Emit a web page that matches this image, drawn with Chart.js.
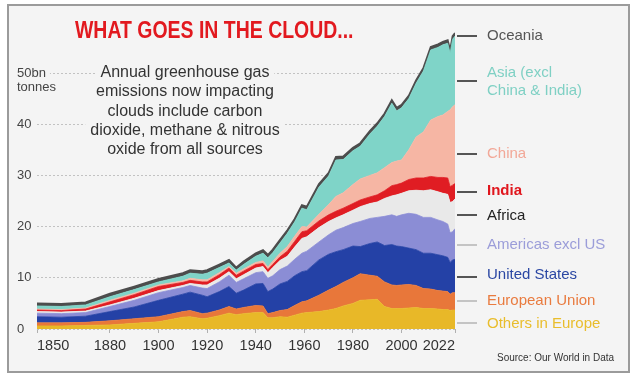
<!DOCTYPE html>
<html><head><meta charset="utf-8">
<script src="https://cdn.jsdelivr.net/npm/chart.js@4"></script>
<style>
html,body{margin:0;padding:0;background:#fff;}
#wrap{position:relative;width:635px;height:383px;overflow:hidden;font-family:"Liberation Sans",Arial,sans-serif;}
#frame{position:absolute;left:7px;top:4px;width:623px;height:369px;box-sizing:border-box;border:2px solid #9b9b9b;background:#f4f4f4;}
#c{position:absolute;left:0;top:0;}
.t{position:absolute;white-space:nowrap;}
.note span{background:#f4f4f4;padding:0 5px;}
.lab{position:absolute;left:487px;font-size:15px;line-height:18px;white-space:nowrap;}
.ld{position:absolute;left:457px;width:20px;height:2px;}
</style></head><body>
<div id="wrap">
<div id="frame"></div>
<canvas id="c" width="635" height="383"></canvas>
<div class="t" style="left:75px;top:19px;font-size:23px;line-height:23px;font-weight:bold;color:#e2191f;transform:scaleX(0.846);transform-origin:0 0;">WHAT GOES IN THE CLOUD...</div>
<div class="t" style="left:17px;top:79px;font-size:13px;line-height:16px;color:#444;">tonnes</div>
<div class="t note" style="left:185px;top:62px;transform:translateX(-50%);font-size:16px;line-height:19.3px;color:#333;text-align:center;"><span>Annual greenhouse gas</span><br><span>emissions now impacting</span><br><span>clouds include carbon</span><br><span>dioxide, methane &amp; nitrous</span><br><span>oxide from all sources</span></div>

<div class="ld" style="top:35px;background:#555;"></div>
<div class="ld" style="top:80px;background:#555;"></div>
<div class="ld" style="top:153px;background:#555;"></div>
<div class="ld" style="top:191px;background:#555;"></div>
<div class="ld" style="top:214px;background:#555;"></div>
<div class="ld" style="top:244px;background:#c4c4c4;"></div>
<div class="ld" style="top:276px;background:#555;"></div>
<div class="ld" style="top:300px;background:#c4c4c4;"></div>
<div class="ld" style="top:322px;background:#c4c4c4;"></div>

<div class="lab" style="top:26px;color:#555;">Oceania</div>
<div class="lab" style="top:63px;color:#7fd0c4;">Asia (excl<br>China &amp; India)</div>
<div class="lab" style="top:144px;color:#f2a898;">China</div>
<div class="lab" style="top:181px;color:#e0161d;font-weight:bold;">India</div>
<div class="lab" style="top:206px;color:#222;">Africa</div>
<div class="lab" style="top:235px;color:#9b9dd9;">Americas excl US</div>
<div class="lab" style="top:265px;color:#2b47a3;">United States</div>
<div class="lab" style="top:291px;color:#e97b3f;">European Union</div>
<div class="lab" style="top:314px;color:#e9bd2c;">Others in Europe</div>
<div class="t" style="left:497px;top:352px;font-size:10px;line-height:12px;color:#333;">Source: Our World in Data</div>
</div>
<script>
const years = [1850,1860,1870,1880,1890,1900,1910,1913,1918,1920,
  1925,1929,1932,1935,1940,1943,1945,1947,1950,1953,
  1956,1959,1961,1966,1970,1973,1976,1980,1983,1987,
  1990,1993,1996,1998,2000,2003,2006,2009,2012,2015,
  2017,2019,2020,2021,2022];
const othersEurope = [0.6,0.6,0.7,0.8,1.1,1.4,2.3,2.4,2.0,2.1,
  2.6,3.1,2.8,3.0,3.2,3.2,2.2,2.2,2.4,2.3,
  2.7,3.1,3.2,3.4,3.7,4.0,4.5,5.0,5.6,5.7,
  5.8,4.4,4.0,4.0,4.0,4.1,4.2,4.0,4.0,3.9,
  3.8,3.8,3.6,3.7,3.7];
const europeanUnion = [0.6,0.6,0.6,0.8,0.9,1.0,1.1,1.2,1.0,1.0,
  1.1,1.3,1.1,1.2,1.4,1.3,0.8,1.0,1.2,1.5,
  1.9,2.2,2.3,3.2,3.9,4.3,4.6,5.0,5.2,4.8,
  4.5,4.8,4.6,4.5,4.6,4.6,4.3,3.9,3.8,3.6,
  3.6,3.5,3.2,3.4,3.4];
const unitedStates = [1.2,1.1,1.2,1.8,2.3,3.2,3.4,3.6,3.6,3.2,
  3.6,3.9,3.1,3.4,4.2,4.4,4.3,4.6,5.2,5.5,
  5.8,5.9,5.9,6.9,7.0,6.8,6.4,6.2,5.3,6.2,
  6.7,7.1,7.9,7.7,7.5,7.1,7.0,6.9,7.0,7.0,
  6.9,6.7,6.2,6.4,6.5];
const americasExclUS = [0.7,0.7,0.7,1.0,1.3,1.5,1.3,1.3,1.4,1.6,
  1.9,2.2,2.1,2.2,2.2,2.3,2.6,2.6,2.8,3.0,
  3.2,3.6,3.8,3.5,3.8,4.2,4.3,4.4,4.9,4.9,
  4.8,5.7,5.8,5.8,6.2,6.8,6.9,7.0,7.0,6.8,
  6.7,6.5,5.8,5.5,6.0];
const africa = [0.3,0.3,0.3,0.3,0.4,0.4,0.4,0.4,0.6,0.7,
  0.7,0.7,0.7,0.8,0.9,1.0,1.1,1.6,1.8,1.9,
  2.4,2.9,2.8,2.8,2.6,2.4,2.5,2.6,2.9,2.9,
  3.0,3.5,3.7,4.2,4.2,4.4,4.7,5.2,5.4,5.5,
  5.5,5.8,5.9,5.9,5.8];
const india = [0.3,0.3,0.4,0.6,0.7,0.8,0.6,0.6,0.6,0.6,
  0.7,0.7,0.7,0.7,0.7,0.6,0.6,0.6,0.7,1.0,
  1.1,1.3,1.2,1.3,1.3,1.3,1.3,1.3,1.3,1.3,
  1.4,1.5,2.0,2.0,2.0,2.2,2.4,2.5,2.6,2.8,
  3.1,3.2,3.1,3.2,3.0];
const china = [0.2,0.2,0.2,0.3,0.3,0.3,0.3,0.4,0.4,0.4,
  0.4,0.3,0.4,0.4,0.4,0.5,0.5,0.6,0.7,0.9,
  1.0,1.0,0.7,1.3,2.0,2.9,3.0,3.7,4.1,4.2,
  4.3,4.5,4.5,4.6,4.5,5.8,8.0,9.0,11.0,11.9,
  12.2,13.0,15.0,15.3,15.4];
const asiaExclChinaIndia = [0.6,0.6,0.6,0.7,0.7,0.6,0.9,1.0,1.1,1.3,
  1.0,0.7,0.6,0.9,1.2,1.5,1.8,1.7,2.0,2.6,
  2.8,3.6,3.4,5.3,5.6,7.1,6.5,6.6,6.4,8.1,
  9.1,10.0,11.6,9.8,10.2,10.0,10.5,11.9,13.7,13.5,
  13.7,13.3,11.1,13.2,13.4];
const oceania = [0.5,0.5,0.5,0.6,0.6,0.6,0.6,0.6,0.6,0.6,
  0.6,0.6,0.5,0.6,0.6,0.6,0.6,0.6,0.6,0.6,
  0.6,0.6,0.6,0.6,0.6,0.6,0.6,0.6,0.6,0.6,
  0.6,0.6,0.6,0.6,0.6,0.6,0.6,0.6,0.6,0.6,
  0.6,0.6,0.6,0.6,0.6];
const xTickYears = [1850,1880,1900,1920,1940,1960,1980,2000,2022];
const yTickValues = [0,10,20,30,40,50];
const seriesNames = ['Others in Europe','European Union','United States','Americas excl US','Africa','India','China','Asia (excl China & India)','Oceania'];

const seriesValues = [othersEurope,europeanUnion,unitedStates,americasExclUS,africa,india,china,asiaExclChinaIndia,oceania];
const colors = ['#e8b828','#e8773a','#2441a6','#8b8dd5','#e9e9e9','#e01d23','#f6b6a4','#7fd4c8','#4d4d4d'];
const FONT = '"Liberation Sans", Arial, sans-serif';

const datasets = seriesValues.map((vals,i)=>({
  label: seriesNames[i],
  data: years.map((yr,j)=>({x:yr, y:vals[j]})),
  backgroundColor: colors[i],
  borderColor: colors[i],
  borderWidth: i===8 ? 1.8 : 0.8,
  fill: i===0 ? 'origin' : '-1',
  pointRadius: 0,
  tension: 0
}));

new Chart(document.getElementById('c'), {
  type: 'line',
  data: {datasets},
  options: {
    responsive: false,
    animation: false,
    devicePixelRatio: 1,
    layout: {padding: {left:17, right:180, top:25, bottom:0}},
    plugins: {legend:{display:false}, tooltip:{enabled:false}},
    scales: {
      x: {
        type: 'linear', min: 1850, max: 2022,
        afterBuildTicks: s => { s.ticks = xTickYears.map(v=>({value:v})); },
        afterFit: s => { s.height = 54; },
        grid: {drawOnChartArea:false, drawTicks:true, tickLength:4, color:'#b0b0b0'},
        border: {display:false},
        ticks: {autoSkip:false, maxRotation:0, align:'inner', padding:4, color:'#333',
          font:{family:FONT, size:14.5}, callback: v => String(v)}
      },
      y: {
        stacked: true, min: 0, max: 59.375,
        afterBuildTicks: s => { s.ticks = yTickValues.map(v=>({value:v})); },
        afterFit: s => { s.width = 20; },
        grid: {color:'#c2c2c2', drawTicks:false, lineWidth:1},
        border: {display:false, dash:[2,2]},
        ticks: {mirror:true, padding:-20, color:'#444', font:{family:FONT, size:13},
          callback: v => v===50 ? '50bn' : String(v),
          showLabelBackdrop:true, backdropColor:'#f4f4f4', backdropPadding:{top:0,bottom:0,left:1,right:4}}
      }
    }
  }
});
</script>
</body></html>
